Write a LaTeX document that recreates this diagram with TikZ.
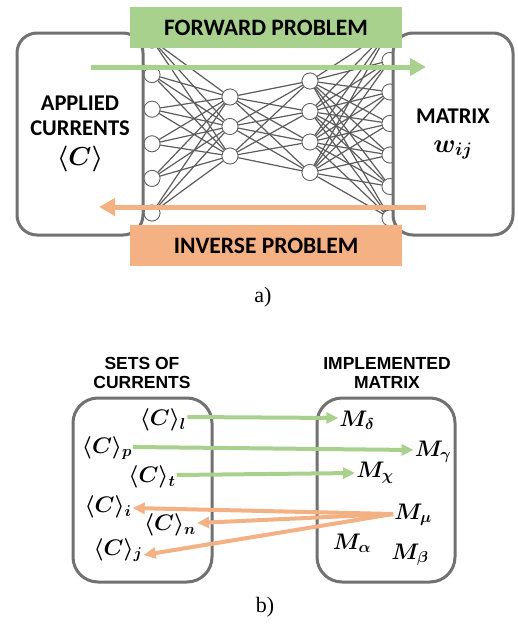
\RequirePackage{fix-cm}
\documentclass[tikz,border=0pt]{standalone}
\usepackage{amsmath}
\usepackage{amssymb}
\usepackage{fontspec}
\setmainfont{Liberation Serif}
\newfontfamily\calibfont{Carlito}
\newfontfamily\arialfont{Liberation Sans}
\usetikzlibrary{arrows.meta}
\definecolor{fwdgreen}{HTML}{A9D18E}
\definecolor{invorange}{HTML}{F4B183}
\definecolor{boxgray}{HTML}{717171}
\definecolor{wiregray}{HTML}{5C5C5C}
\newcommand{\bigmath}[1]{{\fontsize{26}{29}\selectfont$\boldsymbol{#1}$}}
\tikzset{
    neuron/.style={draw=wiregray, circle, fill=white, inner sep=0pt, minimum size=16pt, line width=0.7pt},
    wire/.style={draw=wiregray, line width=1.2pt},
    panel/.style={draw=boxgray, line width=3pt, rounded corners=20pt, fill=white, align=center, inner sep=0pt},
    banner/.style={inner sep=0pt, minimum width=272pt, minimum height=41pt, font=\calibfont\bfseries\fontsize{23.5}{26}\selectfont},
    bigarrow/.style={line width=5pt, -{Triangle[length=16pt,width=17pt]}},
    smallarrow/.style={line width=4pt, -{Triangle[length=12pt,width=11pt]}},
    mathlbl/.style={inner sep=1pt, font=\boldmath\fontsize{22.5}{24}\selectfont},
    title/.style={align=center, font=\arialfont\bfseries\fontsize{17.5}{19}\selectfont},
    caption/.style={font=\fontsize{22}{24}\selectfont}}

\begin{document}
\begin{tikzpicture}[x=1pt,y=-1pt]
\useasboundingbox (0,0) rectangle (518,624);

%a) network
\foreach \i in {1,...,6} \node[neuron] (L\i) at (152,{40+34.6*(\i-1)}) {};
\foreach \i in {1,...,3} \node[neuron] (H\i) at (230,{97+29.5*(\i-1)}) {};
\foreach \i in {1,...,4} \node[neuron] (K\i) at (310,{81+30.5*(\i-1)}) {};
\foreach \i in {1,...,7} \node[neuron] (R\i) at (390,{29+31.5*(\i-1)}) {};
\foreach \i in {1,...,6} \foreach \j in {1,...,3} \draw[wire] (L\i) -- (H\j);
\foreach \i in {1,...,3} \foreach \j in {1,...,4} \draw[wire] (H\i) -- (K\j);
\foreach \i in {1,...,4} \foreach \j in {1,...,7} \draw[wire] (K\i) -- (R\j);
\foreach \i in {1,...,6} \node[neuron] at (L\i) {};
\foreach \i in {1,...,3} \node[neuron] at (H\i) {};
\foreach \i in {1,...,4} \node[neuron] at (K\i) {};
\foreach \i in {1,...,7} \node[neuron] at (R\i) {};

\node[panel, minimum width=126pt, minimum height=202pt, font=\calibfont\bfseries\fontsize{22.5}{25}\selectfont] (applied) at (80,134)
  {APPLIED\\CURRENTS\\[5pt]\bigmath{\langle C\rangle}};
\node[panel, minimum width=120pt, minimum height=202pt, font=\calibfont\bfseries\fontsize{22.5}{29}\selectfont] (matrix) at (453,134)
  {MATRIX\\\bigmath{w_{ij}}};
\node[banner, fill=fwdgreen] (forward) at (266,27.5) {FORWARD PROBLEM};
\node[banner, fill=invorange] (inverse) at (266,245.5) {INVERSE PROBLEM};

\coordinate (fwd0) at (91,67);
\coordinate (fwd1) at (426,67);
\coordinate (inv0) at (426,207);
\coordinate (inv1) at (99,207);
\draw[bigarrow, fwdgreen] (fwd0) -- (fwd1);
\draw[bigarrow, invorange] (inv0) -- (inv1);
\node[caption] (lbla) at (263,297) {a)};

%b) sets
\node[panel, rounded corners=25pt, minimum width=139pt, minimum height=184pt] (sets) at (142.5,490) {};
\node[panel, rounded corners=25pt, minimum width=138pt, minimum height=184pt] (impl) at (386,490) {};
\node[title] at (142,372.5) {SETS OF\\CURRENTS};
\node[title] at (387,372.5) {IMPLEMENTED\\MATRIX};

\node[mathlbl] (cl) at (163,420) {$\langle C\rangle_{l}$};
\node[mathlbl] (cp) at (107,448) {$\langle C\rangle_{p}$};
\node[mathlbl] (ct) at (152,477) {$\langle C\rangle_{t}$};
\node[mathlbl] (ci) at (108,507) {$\langle C\rangle_{i}$};
\node[mathlbl] (cn) at (170,525) {$\langle C\rangle_{n}$};
\node[mathlbl] (cj) at (118,550) {$\langle C\rangle_{j}$};
\node[mathlbl] (md) at (357,420) {$M_{\delta}$};
\node[mathlbl] (mg) at (433,452) {$M_{\gamma}$};
\node[mathlbl] (mx) at (375,473) {$M_{\chi}$};
\node[mathlbl] (mm) at (413,515) {$M_{\mu}$};
\node[mathlbl] (ma) at (352,543) {$M_{\alpha}$};
\node[mathlbl] (mb) at (410,555) {$M_{\beta}$};

\draw[smallarrow, fwdgreen] (cl.east |- 0,417) -- (md.west |- 0,418);
\draw[smallarrow, fwdgreen] (cp.east |- 0,447) -- (mg.west |- 0,450);
\draw[smallarrow, fwdgreen] (ct.east |- 0,475) -- (mx.west |- 0,473);
\draw[smallarrow, invorange] (mm.west |- 0,514) -- (ci.east |- 0,508);
\draw[smallarrow, invorange] (mm.west |- 0,514) -- (cn.east |- 0,523);
\draw[smallarrow, invorange] (mm.west |- 0,514) -- (cj.east |- 0,555);
\node[caption] (lblb) at (265,607) {b)};

\end{tikzpicture}
\end{document}
